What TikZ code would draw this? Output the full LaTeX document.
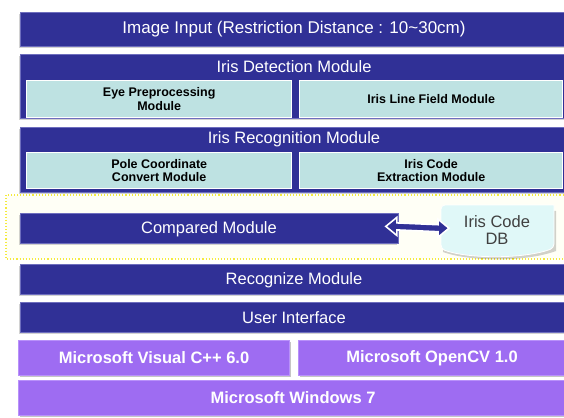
\documentclass[tikz,border=0pt]{standalone}
\usepackage{fontspec}
\setmainfont{Liberation Sans}
\usetikzlibrary{arrows.meta,shadows,calc}
\definecolor{dkblue}{RGB}{48,48,150}
\definecolor{edgeblue}{RGB}{110,110,190}
\definecolor{subfill}{RGB}{190,226,226}
\definecolor{purp}{RGB}{158,108,242}
\definecolor{purpedge}{RGB}{185,145,250}
\definecolor{dbfill}{RGB}{224,248,248}
\definecolor{dashyel}{RGB}{245,235,60}
\definecolor{paleyel}{RGB}{255,255,246}
\tikzset{
  bar/.style={fill=dkblue, draw=edgeblue, line width=0.8pt, inner sep=0pt, anchor=north west,
    drop shadow={shadow xshift=-1.5pt, shadow yshift=-1.5pt, opacity=0.35}},
  bartext/.style={text=white, font=\fontsize{16.5}{18}\selectfont},
  subbox/.style={fill=subfill, draw=white, line width=1.4pt, inner sep=0pt, anchor=north west,
    align=center, font=\bfseries\fontsize{12.5}{13.5}\selectfont, text=black},
  pbox/.style={fill=purp, draw=purpedge, line width=0.8pt, inner sep=0pt, anchor=north west,
    drop shadow={shadow xshift=1.5pt, shadow yshift=-1.5pt, opacity=0.45}},
  ptext/.style={text=white, font=\bfseries\fontsize{16.5}{18}\selectfont},
  dblarrow/.style={fill=dkblue, draw=white, line width=1.6pt, line join=miter}
}
\begin{document}
\begin{tikzpicture}[x=1pt,y=-1pt]
\useasboundingbox (0,0) rectangle (564,417);
\fill[white] (0,0) rectangle (564,417);

% Image input
\node[bar, minimum width=548pt, minimum height=34pt] (img) at (20,12) {};
\node[bartext, font=\fontsize{17}{18}\selectfont] (imgt) at (294,29) {Image Input (Restriction Distance : 10\textasciitilde 30cm)};

% Iris detection
\node[bar, minimum width=548pt, minimum height=64pt] (det) at (20,54) {};
\node[bartext] (dett) at (294,67) {Iris Detection Module};
\node[subbox, minimum width=265pt, minimum height=37pt] (eye) at (26,80) {Eye Preprocessing\\Module};
\node[subbox, minimum width=263pt, minimum height=37pt] (line) at (299,80) {Iris Line Field Module};

% Iris recognition
\node[bar, minimum width=548pt, minimum height=65pt] (rec) at (20,127) {};
\node[bartext] (rect) at (294,139) {Iris Recognition Module};
\node[subbox, minimum width=265pt, minimum height=36pt] (pole) at (26,152) {Pole Coordinate\\Convert Module};
\node[subbox, minimum width=263pt, minimum height=36pt] (code) at (299,152) {Iris Code\\Extraction Module};

% dotted region
\draw[dashyel, fill=paleyel, dotted, line width=1.1pt] (6,195) rectangle (568,259);

% compared module
\node[bar, minimum width=378pt, minimum height=30pt] (cmp) at (20,213) {};
\node[bartext] (cmpt) at (209,229) {Compared Module};

% DB
\node[inner sep=0pt, minimum width=113pt, minimum height=48pt, anchor=north west] (db) at (441,205) {};
\fill[black, opacity=0.18] (443,208) -- (443,252) .. controls (471,262) and (526,262) .. (556,251) -- (556,211) -- cycle;
\draw[fill=dbfill, draw=white, line width=0.8pt, rounded corners=4pt]
  (441,205) -- (441,249) .. controls (469,259) and (524,259) .. (554,248) [sharp corners] -- (554,205) [rounded corners=4pt] -- cycle;
\node[text=black!75, align=center, font=\fontsize{16.5}{17}\selectfont] (dbt) at (497,230) {Iris Code\\DB};

% double arrow connector
\path (cmp.east) ++(-13pt,2pt) coordinate (aL);
\path (db.west) ++(8pt,1pt) coordinate (aR);
\draw[dblarrow] (aL) -- ++(11,-9) -- ++(0,5.5) -- ($(aR)+(-11,-3.5)$) -- ++(0,-5.5) -- (aR)
  -- ++(-11,9) -- ++(0,-5.5) -- ($(aL)+(11,3.5)$) -- ++(0,5.5) -- cycle;

% recognize / UI
\node[bar, minimum width=548pt, minimum height=30pt] (rcg) at (20,264) {};
\node[bartext] (rcgt) at (294,280) {Recognize Module};
\node[bar, minimum width=548pt, minimum height=30pt] (ui) at (20,302) {};
\node[bartext] (uit) at (294,318) {User Interface};

% purple
\node[pbox, minimum width=271pt, minimum height=35pt] (vc) at (18,340) {};
\node[ptext] (vct) at (154,358) {Microsoft Visual C++ 6.0};
\node[pbox, minimum width=270pt, minimum height=35pt] (cv) at (298,340) {};
\node[ptext] (cvt) at (432,358) {Microsoft OpenCV 1.0};
\node[pbox, minimum width=550pt, minimum height=35pt] (win) at (18,380) {};
\node[ptext] (wint) at (293,398) {Microsoft Windows 7};
\end{tikzpicture}
\end{document}
